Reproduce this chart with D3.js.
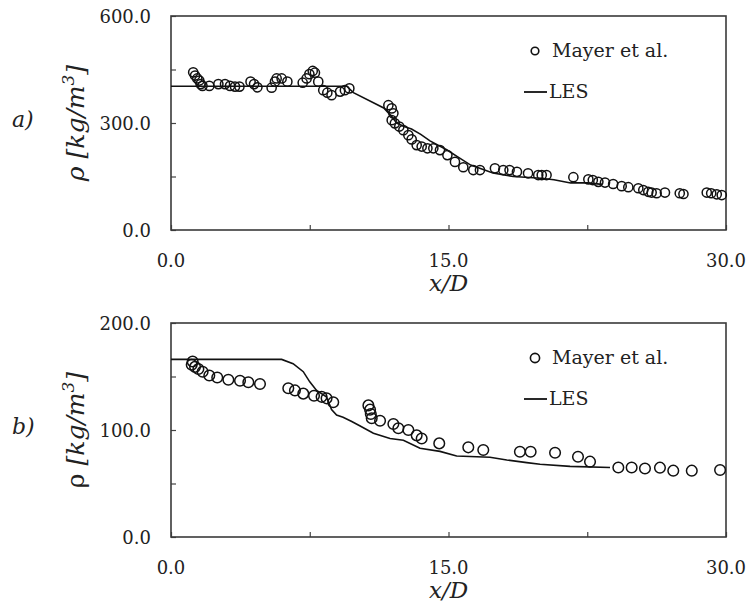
<!DOCTYPE html>
<html>
<head>
<meta charset="utf-8">
<script src="https://cdn.jsdelivr.net/npm/d3@7"></script>
<style>
  html, body { margin: 0; padding: 0; background: #fff; }
  svg { display: block; }
  text { font-family: "DejaVu Serif", "Liberation Serif", serif; fill: #222; }
</style>
</head>
<body>
<svg id="chart" width="749" height="608"></svg>
<script>
// x/D ticks shared by both panels
const xTicks = [0, 7.5, 15, 22.5, 30];
const xTickLabels = [0, 15, 30];

// Panel a) – measured density (Mayer et al.)
const expA = [
  [1.2,442],[1.3,433],[1.42,425],[1.53,419],[1.6,409],[1.7,404],[2.07,404],[2.56,409],
  [2.92,409],[3.19,404],[3.46,402],[3.7,402],[4.3,416],[4.49,409],[4.67,400],[5.44,399],
  [5.62,416],[5.71,425],[5.98,425],[6.29,416],[7.12,413],[7.33,425],[7.48,437],[7.66,446],
  [7.78,441],[7.96,416],[8.23,392],[8.45,385],[8.68,378],[9.14,388],[9.4,392],[9.64,397],
  [11.75,350],[11.93,341],[12.02,327],[11.93,308],[12.1,299],[12.34,290],[12.56,280],
  [12.83,266],[13.01,254],[13.28,238],[13.55,234],[13.86,229],[14.18,229],[14.54,224],
  [14.94,210],[15.35,191],[15.8,176],[16.34,168],[16.7,168],[17.51,173],[17.96,168],
  [18.3,168],[18.7,163],[19.3,159],[19.85,154],[20.04,154],[20.3,154],[21.75,148],
  [22.56,142],[22.8,140],[23.1,135],[23.46,133],[23.9,129],[24.36,123],[24.72,120],
  [25.26,117],[25.53,112],[25.8,107],[25.98,105],[26.25,103],[26.7,105],[27.5,103],
  [27.7,101],[28.96,105],[29.2,103],[29.5,100],[29.77,98]
];
// Panel a) – LES profile
const lesA = [
  [0,403],[9.5,403],[9.86,385],[11.5,342],[11.9,320],[12.2,300],[12.6,290],[13.0,283],
  [13.5,268],[14.0,250],[14.9,225],[15.5,205],[16.2,182],[17.4,160],[18.5,150],[20.0,145],
  [20.7,141],[21.6,132],[22.5,132],[23.3,128]
];
const yTicksA = [0, 150, 300, 450, 600];
const yTickLabelsA = [0, 300, 600];

// Panel b) – measured density (Mayer et al.)
const expB = [
  [1.17,164],[1.12,161],[1.3,159],[1.48,157],[1.71,154.5],[2.07,151],[2.5,149],[3.1,147],
  [3.73,146],[4.18,144.6],[4.81,143],[6.34,139],[6.7,137],[7.15,134],[7.73,132],[8.14,131],
  [8.41,129.6],[8.77,125.9],[10.67,123],[10.76,119],[10.8,115],[10.85,111],[11.3,108.7],
  [12.02,105.6],[12.29,101.6],[12.83,100],[13.28,95],[13.55,92],[14.5,87.5],[16.07,83.8],
  [16.88,81.3],[18.86,79.7],[19.44,79.7],[20.76,78.8],[22.0,75],[22.65,70.4],[24.18,65],
  [24.9,65],[25.62,64],[26.43,64.8],[27.15,62],[28.15,62],[29.68,62.6]
];
// Panel b) – LES profile
const lesB = [
  [0,166],[5.98,166],[6.6,162],[7.15,154.5],[7.5,145],[7.87,137],[8.4,131],[8.68,119],
  [8.95,114],[9.3,112],[9.77,108],[10.2,104],[10.94,97],[11.84,92],[12.56,90.5],[13.46,83],
  [14.54,80],[15.44,75.7],[17.24,74.5],[18.15,72],[19.23,69.5],[19.95,68],[21.57,66],[23.73,65]
];
const yTicksB = [0, 50, 100, 150, 200];
const yTickLabelsB = [0, 100, 200];

const legendLabels = ["Mayer et al.", "LES"];

const svg = d3.select("#chart");
const fmt = d3.format(".1f");

function panel(cfg) {
  const x = d3.scaleLinear().domain([0, 30]).range([171, 726]);
  const y = d3.scaleLinear().domain(cfg.yDomain).range([cfg.bottom, cfg.top]);
  const g = svg.append("g");

  // inner ticks
  g.append("g").attr("transform", `translate(0,${cfg.bottom})`)
    .call(d3.axisBottom(x).tickValues(xTicks).tickSize(-5).tickFormat(""))
    .call(s => s.select(".domain").remove())
    .call(s => s.selectAll("line").attr("stroke", "#444").attr("stroke-width", 1.2));
  g.append("g").attr("transform", "translate(171,0)")
    .call(d3.axisLeft(y).tickValues(cfg.yTicks).tickSize(-5).tickFormat(""))
    .call(s => s.select(".domain").remove())
    .call(s => s.selectAll("line").attr("stroke", "#444").attr("stroke-width", 1.2));

  // frame
  g.append("rect")
    .attr("x", x(0)).attr("y", y(cfg.yDomain[1]))
    .attr("width", x(30) - x(0)).attr("height", y(cfg.yDomain[0]) - y(cfg.yDomain[1]))
    .attr("fill", "none").attr("stroke", "#3a3a3a").attr("stroke-width", 1.6);

  // tick labels
  g.selectAll(".yl").data(cfg.yTickLabels).join("text")
    .attr("x", 151).attr("y", d => y(d) + 7)
    .attr("text-anchor", "end").attr("font-size", 18).text(fmt);
  g.selectAll(".xl").data(xTickLabels).join("text")
    .attr("x", d => x(d)).attr("y", cfg.bottom + 37)
    .attr("text-anchor", "middle").attr("font-size", 18).text(fmt);

  // axis titles
  g.append("text").attr("x", x(15)).attr("y", cfg.bottom + 61)
    .attr("text-anchor", "middle").attr("font-size", 23).attr("font-style", "italic")
    .text("x/D");
  const yt = g.append("text")
    .attr("transform", `translate(84,${(cfg.top + cfg.bottom) / 2}) rotate(-90)`)
    .attr("text-anchor", "middle").attr("font-size", 25);
  yt.append("tspan").attr("font-style", cfg.rhoItalic ? "italic" : "normal").text("ρ ");
  yt.append("tspan").attr("font-style", "italic").text("[kg/m");
  yt.append("tspan").attr("font-style", "italic").attr("font-size", 17).attr("dy", -10).text("3");
  yt.append("tspan").attr("font-style", "italic").attr("dy", 10).text("]");

  g.append("text").attr("x", 12).attr("y", (cfg.top + cfg.bottom) / 2 + 4)
    .attr("font-size", 22).attr("font-style", "italic").text(cfg.tag);

  // LES line
  const line = d3.line().x(d => x(d[0])).y(d => y(d[1]));
  g.append("path").datum(cfg.les).attr("d", line)
    .attr("fill", "none").attr("stroke", "#111").attr("stroke-width", 1.6);

  // experimental points
  g.selectAll(".pt").data(cfg.exp).join("circle")
    .attr("cx", d => x(d[0])).attr("cy", d => y(d[1])).attr("r", cfg.r)
    .attr("fill", "none").attr("stroke", "#111").attr("stroke-width", 1.5);

  // legend
  const lg = g.append("g").attr("transform", `translate(${cfg.legend[0]},${cfg.legend[1]})`);
  lg.append("circle").attr("cx", 11).attr("cy", 0).attr("r", cfg.legendR)
    .attr("fill", "none").attr("stroke", "#111").attr("stroke-width", 1.6);
  lg.append("text").attr("x", 28).attr("y", 6).attr("font-size", 19).text(legendLabels[0]);
  lg.append("line").attr("x1", 0).attr("x2", 23).attr("y1", 41).attr("y2", 41)
    .attr("stroke", "#111").attr("stroke-width", 1.8);
  lg.append("text").attr("x", 25).attr("y", 47).attr("font-size", 19).text(legendLabels[1]);
}

panel({ yDomain: [0, 600], top: 16, bottom: 230, yTicks: yTicksA, yTickLabels: yTickLabelsA,
        exp: expA, les: lesA, tag: "a)", rhoItalic: true, legend: [524, 51], r: 4.6, legendR: 3.8 });
panel({ yDomain: [0, 200], top: 323, bottom: 537, yTicks: yTicksB, yTickLabels: yTickLabelsB,
        exp: expB, les: lesB, tag: "b)", rhoItalic: false, legend: [524, 358], r: 5.3, legendR: 4.6 });
</script>
</body>
</html>
